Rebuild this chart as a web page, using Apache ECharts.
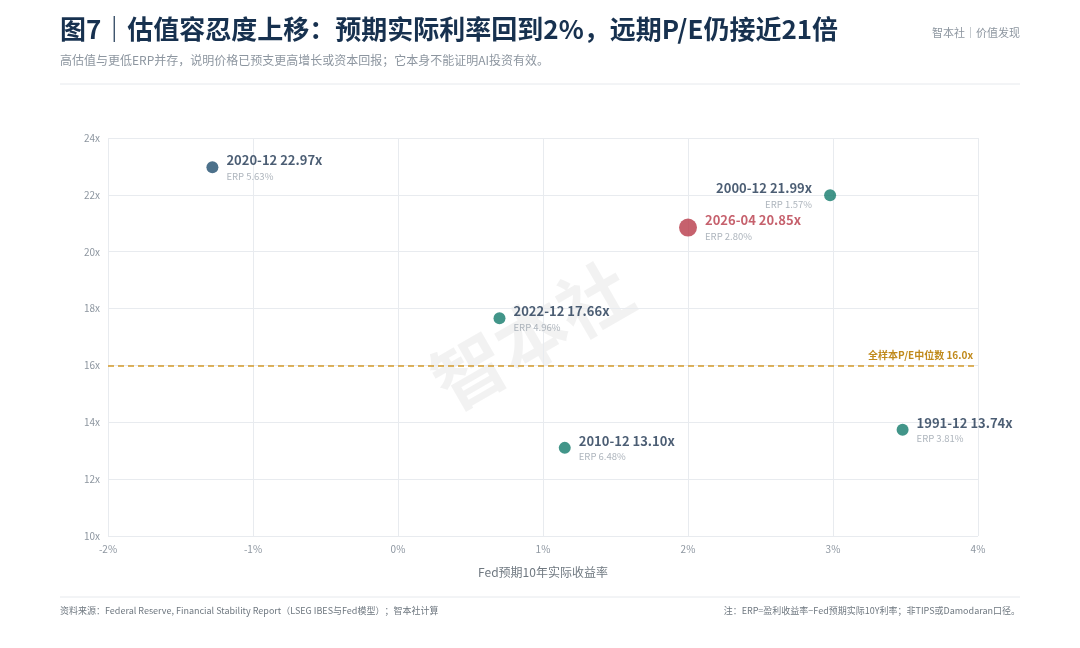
<!DOCTYPE html>
<html><head><meta charset="utf-8">
<script src="https://cdn.jsdelivr.net/npm/echarts@6/dist/echarts.min.js"></script>
<style>body{margin:0;background:#fff}#c{width:1080px;height:648px}</style>
</head><body><div id="c"></div>
<script>
var labels = ['2020-12', '2000-12', '2026-04', '2022-12', '2010-12', '1991-12'];
var realRate = [-1.28, 2.98, 2.0, 0.70, 1.15, 3.48];
var pe = [22.97, 21.99, 20.85, 17.66, 13.10, 13.74];
var erp = ['5.63%', '1.57%', '2.80%', '4.96%', '6.48%', '3.81%'];
var dotColor = ['#1f4e6e', '#137a6c', '#b83a48', '#137a6c', '#137a6c', '#137a6c'];
var median = 16.0;
var font = '"Noto Sans CJK SC", sans-serif';

var chart = echarts.init(document.getElementById('c'));
var pts = labels.map(function (l, i) {
    var hot = l === '2026-04';
    var left = l === '2000-12';
    return {
        value: [realRate[i], pe[i]],
        symbolSize: hot ? 18 : 12,
        itemStyle: {color: dotColor[i]},
        label: {
            show: true,
            position: left ? 'left' : 'right',
            align: left ? 'right' : 'left',
            distance: left ? 12 : 8,
            offset: [0, 0],
            formatter: '{a|' + l + ' ' + pe[i].toFixed(2) + 'x}\n{b|ERP ' + erp[i] + '}',
            rich: {
                a: {fontSize: 13, fontWeight: 'bold', color: hot ? '#b83a48' : '#1e3450', fontFamily: font, lineHeight: 18},
                b: {fontSize: 9.5, color: '#9aa3ad', fontFamily: font, lineHeight: 14}
            }
        }
    };
});

chart.setOption({
    textStyle: {fontFamily: font},
    graphic: [
        {type: 'text', left: 60, top: 16, style: {text: '图7｜估值容忍度上移：预期实际利率回到2%，远期P/E仍接近21倍', font: 'bold 26px ' + font, fill: '#17314f'}},
        {type: 'text', left: 60, top: 54, style: {text: '高估值与更低ERP并存，说明价格已预支更高增长或资本回报；它本身不能证明AI投资有效。', font: '12px ' + font, fill: '#8d96a0'}},
        {type: 'text', right: 60, top: 27, style: {text: '智本社｜价值发现', font: '11px ' + font, fill: '#8d96a0'}},
        {type: 'line', shape: {x1: 60, y1: 84, x2: 1020, y2: 84}, style: {stroke: '#e6e9ed', lineWidth: 1}},
        {type: 'line', shape: {x1: 60, y1: 597, x2: 1020, y2: 597}, style: {stroke: '#e6e9ed', lineWidth: 1}},
        {type: 'text', left: 60, top: 606, style: {text: '资料来源：Federal Reserve, Financial Stability Report（LSEG IBES与Fed模型）；智本社计算', font: '9px ' + font, fill: '#6f7880'}},
        {type: 'text', right: 60, top: 606, style: {text: '注：ERP=盈利收益率−Fed预期实际10Y利率；非TIPS或Damodaran口径。', font: '9px ' + font, fill: '#6f7880'}},
        {type: 'text', left: 420, top: 250, rotation: Math.PI / 6, z: 0, style: {text: '智本社', font: 'bold 72px ' + font, fill: 'rgba(0,0,0,0.05)'}}
    ],
    grid: {left: 108, right: 102, top: 138, bottom: 112},
    xAxis: {
        type: 'value', min: -2, max: 4, interval: 1,
        name: 'Fed预期10年实际收益率', nameLocation: 'middle', nameGap: 30,
        nameTextStyle: {color: '#6f7880', fontSize: 12},
        axisLine: {show: false}, axisTick: {show: false},
        axisLabel: {color: '#8d96a0', fontSize: 10, formatter: '{value}%'},
        splitLine: {lineStyle: {color: '#e8ebef'}}
    },
    yAxis: {
        type: 'value', min: 10, max: 24, interval: 2,
        axisLine: {show: false}, axisTick: {show: false},
        axisLabel: {color: '#8d96a0', fontSize: 10, formatter: '{value}x'},
        splitLine: {lineStyle: {color: '#e8ebef'}}
    },
    series: [{
        type: 'scatter',
        data: pts,
        markLine: {
            silent: true, symbol: 'none',
            lineStyle: {color: '#d49a2a', type: [6, 4], width: 1.5},
            label: {position: 'insideEndTop', formatter: '全样本P/E中位数 ' + median.toFixed(1) + 'x', color: '#c08a1c', fontSize: 10, fontWeight: 'bold'},
            data: [{yAxis: median}]
        }
    }]
});
</script></body></html>
